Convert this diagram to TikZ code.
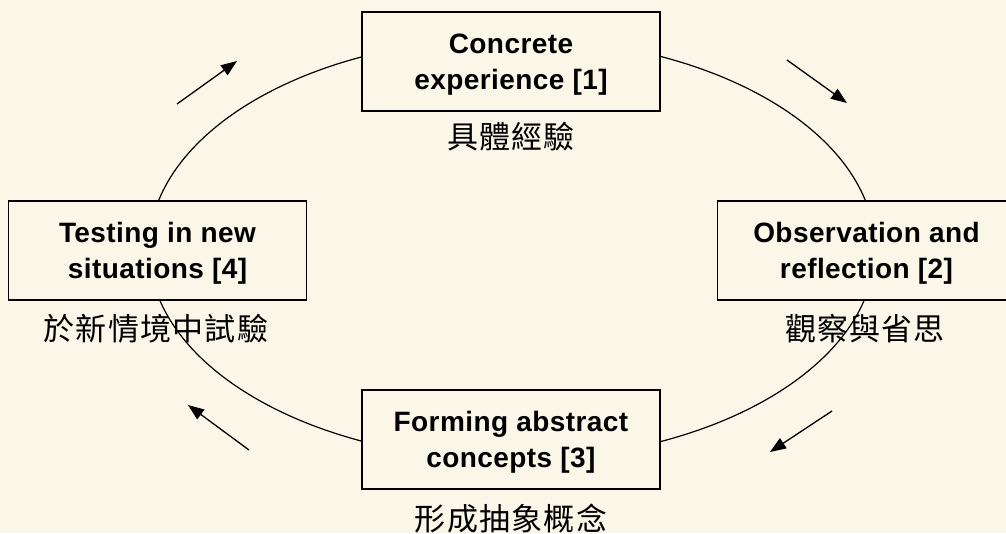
\documentclass[tikz,border=0pt]{standalone}
\usepackage{fontspec}
\setmainfont{Liberation Sans}[LetterSpace=1.5]
\newfontfamily\cjk{Noto Sans CJK TC}[LetterSpace=4]
\usetikzlibrary{arrows.meta}
\definecolor{bg}{RGB}{250,247,233}
\begin{document}
\begin{tikzpicture}[x=1pt,y=-1pt,
  box/.style={draw, fill=bg, line width=1.2pt, minimum width=298pt, minimum height=99pt, inner sep=0pt},
  boxtext/.style={inner sep=0pt, align=center, yshift=-3pt, font=\fontsize{28}{36}\selectfont\bfseries},
  cjklabel/.style={font=\cjk\fontsize{31}{31}\selectfont, inner sep=0pt},
  cyc/.style={line width=1.3pt, -{Triangle[length=16pt,width=12pt]}}]
\fill[bg] (0,0) rectangle (1006,533);
\useasboundingbox (0,0) rectangle (1006,533);
\draw[line width=1.2pt] (512,249) ellipse [x radius=363, y radius=211];
\node[box] (b1) at (511,61.5) {};
\node[box] (b2) at (866.5,250.5) {};
\node[box] (b3) at (511,439.5) {};
\node[box] (b4) at (157.5,250.5) {};
\node[boxtext] (t1) at (b1.center) {Concrete\\experience [1]};
\node[boxtext] (t2) at (b2.center) {Observation and\\reflection [2]};
\node[boxtext] (t3) at (b3.center) {Forming abstract\\concepts [3]};
\node[boxtext] (t4) at (b4.center) {Testing in new\\situations [4]};
\node[cjklabel] (l1) at (511,137) {具體經驗};
\node[cjklabel] (l2) at (865,329) {觀察與省思};
\node[cjklabel] (l3) at (511,519) {形成抽象概念};
\node[cjklabel] (l4) at (156,329) {於新情境中試驗};
\coordinate (a1s) at (177,104); \coordinate (a1e) at (237,61);
\coordinate (a2s) at (787,60);  \coordinate (a2e) at (847,103);
\coordinate (a3s) at (832,411); \coordinate (a3e) at (770,452);
\coordinate (a4s) at (249,450); \coordinate (a4e) at (188,405);
\draw[cyc] (a1s) -- (a1e);
\draw[cyc] (a2s) -- (a2e);
\draw[cyc] (a3s) -- (a3e);
\draw[cyc] (a4s) -- (a4e);
\end{tikzpicture}
\end{document}
